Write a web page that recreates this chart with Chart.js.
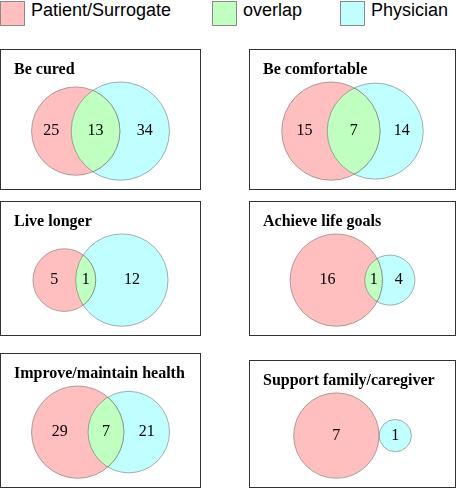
<!DOCTYPE html>
<html>
<head>
<meta charset="utf-8">
<script src="https://cdn.jsdelivr.net/npm/chart.js@4.4.1/dist/chart.umd.min.js"></script>
<style>
  html, body { margin: 0; padding: 0; background: #fff; width: 456px; height: 488px; overflow: hidden; }
  #legend { position: absolute; left: 0; top: 0; width: 456px; height: 30px;
            font: 18px "Liberation Sans", Arial, sans-serif; color: #000; }
  .sw { position: absolute; top: 1px; width: 25px; height: 25px; box-sizing: border-box; border: 1px solid #8a8a8a; }
  .lt { position: absolute; top: 0px; line-height: 20px; white-space: nowrap; }
  .panel { position: absolute; box-sizing: border-box; border: 1px solid #333; background: #fff; }
  .panel canvas { display: block; }
</style>
</head>
<body>
<div id="legend"></div>
<div id="panels"></div>
<script>
// ---------------- data ----------------
const panelTitles = ["Be cured", "Be comfortable", "Live longer", "Achieve life goals",
                     "Improve/maintain health", "Support family/caregiver"];
const patientOnly   = [25, 15, 5, 16, 29, 7];
const overlapCounts = [13, 7, 1, 1, 7, 0];
const physicianOnly = [34, 14, 12, 4, 21, 1];
const seriesLabels  = ["Patient/Surrogate", "overlap", "Physician"];

// ---------------- styles / layout ----------------
const seriesColors = ["#FFBFBF", "#BFFFBF", "#BFFFFF"];
const circleStroke = "rgba(80,80,80,0.45)";
const panelBoxes = [
  { left: 0,   top: 49,  width: 201, height: 141 },
  { left: 249, top: 49,  width: 207, height: 141 },
  { left: 0,   top: 201, width: 201, height: 135 },
  { left: 249, top: 201, width: 207, height: 135 },
  { left: 0,   top: 353, width: 201, height: 135 },
  { left: 249, top: 360, width: 207, height: 128 }
];
const legendLefts = [0, 212, 340];
const legendTextGap = 31;
const LENS_AREA_SCALE = 1.35;   // drawn overlap area relative to counts
const FIT = 0.985;              // fraction of plot height used by largest circle
const PAD = { left: 13, right: 13, bottom: 8 };
const TITLE_PAD = { top: 10, bottom: 2 };
const TITLE_SIZE = 16;

// ---------------- legend ----------------
const legend = document.getElementById('legend');
seriesLabels.forEach((lab, i) => {
  const sw = document.createElement('div');
  sw.className = 'sw';
  sw.style.left = legendLefts[i] + 'px';
  sw.style.background = seriesColors[i];
  legend.appendChild(sw);
  const t = document.createElement('div');
  t.className = 'lt';
  t.style.left = (legendLefts[i] + legendTextGap) + 'px';
  t.textContent = lab;
  legend.appendChild(t);
});

// ---------------- venn geometry ----------------
function lensArea(r1, r2, d) {
  if (d >= r1 + r2) return 0;
  if (d <= Math.abs(r1 - r2)) return Math.PI * Math.min(r1, r2) ** 2;
  const a1 = Math.acos((d * d + r1 * r1 - r2 * r2) / (2 * d * r1));
  const a2 = Math.acos((d * d + r2 * r2 - r1 * r1) / (2 * d * r2));
  const t = Math.sqrt((-d + r1 + r2) * (d + r1 - r2) * (d - r1 + r2) * (d + r1 + r2));
  return r1 * r1 * a1 + r2 * r2 * a2 - 0.5 * t;
}
function separation(r1, r2, target) {
  if (target <= 0) return r1 + r2;
  let lo = Math.abs(r1 - r2), hi = r1 + r2;
  for (let i = 0; i < 60; i++) {
    const mid = (lo + hi) / 2;
    if (lensArea(r1, r2, mid) > target) lo = mid; else hi = mid;
  }
  return (lo + hi) / 2;
}

const vennPlugin = {
  id: 'venn',
  afterDatasetsDraw(chart) {
    const ctx = chart.ctx;
    const a = chart.getDatasetMeta(0).data[0];
    const b = chart.getDatasetMeta(2).data[0];
    const ra = a.options.radius, rb = b.options.radius;
    const info = chart.options.plugins.venn;
    if (info.overlap > 0) {
      ctx.save();
      ctx.beginPath(); ctx.arc(a.x, a.y, ra, 0, Math.PI * 2); ctx.clip();
      ctx.beginPath(); ctx.arc(b.x, b.y, rb, 0, Math.PI * 2);
      ctx.fillStyle = seriesColors[1]; ctx.fill();
      ctx.strokeStyle = circleStroke; ctx.lineWidth = 1; ctx.stroke();
      ctx.restore();
      ctx.save();
      ctx.beginPath(); ctx.arc(b.x, b.y, rb, 0, Math.PI * 2); ctx.clip();
      ctx.beginPath(); ctx.arc(a.x, a.y, ra, 0, Math.PI * 2);
      ctx.strokeStyle = circleStroke; ctx.lineWidth = 1; ctx.stroke();
      ctx.restore();
    }
    const xs = chart.scales.x, ys = chart.scales.y;
    ctx.save();
    ctx.fillStyle = '#000';
    ctx.font = '16px "Liberation Serif", "Times New Roman", serif';
    ctx.textAlign = 'center';
    ctx.textBaseline = 'middle';
    const y = ys.getPixelForValue(0);
    info.labels.forEach(l => {
      ctx.fillText(String(l.text), xs.getPixelForValue(l.x), y);
    });
    ctx.restore();
  }
};

// ---------------- panels ----------------
const panelsDiv = document.getElementById('panels');
panelTitles.forEach((title, i) => {
  const box = panelBoxes[i];
  const div = document.createElement('div');
  div.className = 'panel';
  Object.assign(div.style, { left: box.left + 'px', top: box.top + 'px',
                             width: box.width + 'px', height: box.height + 'px' });
  const cv = document.createElement('canvas');
  const cw = box.width - 2, ch = box.height - 2;
  cv.width = cw; cv.height = ch;
  cv.style.width = cw + 'px'; cv.style.height = ch + 'px';
  div.appendChild(cv);
  panelsDiv.appendChild(div);

  const a = patientOnly[i], o = overlapCounts[i], b = physicianOnly[i];
  const rA = Math.sqrt(a + o), rB = Math.sqrt(b + o);
  const d = separation(rA, rB, LENS_AREA_SCALE * Math.PI * o);
  const mid = (-rA + d + rB) / 2;
  const xA = -mid, xB = d - mid;

  const plotW = cw - PAD.left - PAD.right;
  const plotH = ch - PAD.bottom - (TITLE_PAD.top + TITLE_PAD.bottom + TITLE_SIZE * 1.2);
  const maxR = Math.max(rA, rB);
  const k = FIT * plotH / (2 * maxR);      // pixels per unit
  const halfX = plotW / (2 * k), halfY = plotH / (2 * k);

  const labels = [];
  if (o > 0) {
    const leftA = xA - rA, rightA = xA + rA, leftB = xB - rB, rightB = xB + rB;
    labels.push({ text: a, x: (leftA + leftB) / 2 });
    labels.push({ text: o, x: (leftB + rightA) / 2 });
    labels.push({ text: b, x: (rightA + rightB) / 2 });
  } else {
    labels.push({ text: a, x: xA });
    labels.push({ text: b, x: xB });
  }

  // radius (in data units) converted to pixels through the chart's y scale
  const radiusFromUnits = (c) => {
    const s = c.chart.scales.y;
    if (!c.raw || !s) return 0;
    const px = Math.abs(s.getPixelForValue(c.raw.u) - s.getPixelForValue(0));
    return isFinite(px) ? px : 0;
  };

  new Chart(cv, {
    type: 'scatter',
    data: {
      datasets: [
        { label: seriesLabels[0], data: [{ x: xA, y: 0, u: rA }],
          pointBackgroundColor: seriesColors[0], pointBorderColor: circleStroke, pointBorderWidth: 1,
          pointRadius: radiusFromUnits, pointHoverRadius: radiusFromUnits, clip: false },
        { label: seriesLabels[1], data: [], pointBackgroundColor: seriesColors[1] },
        { label: seriesLabels[2], data: [{ x: xB, y: 0, u: rB }],
          pointBackgroundColor: seriesColors[2], pointBorderColor: circleStroke, pointBorderWidth: 1,
          pointRadius: radiusFromUnits, pointHoverRadius: radiusFromUnits, clip: false }
      ]
    },
    options: {
      responsive: false,
      animation: false,
      events: [],
      layout: { padding: { left: PAD.left, right: PAD.right, top: 0, bottom: PAD.bottom } },
      scales: {
        x: { display: false, min: -halfX, max: halfX },
        y: { display: false, min: -halfY, max: halfY }
      },
      plugins: {
        legend: { display: false },
        tooltip: { enabled: false },
        title: {
          display: true, text: title, align: 'start', color: '#000',
          font: { family: '"Liberation Serif", "Times New Roman", serif', size: TITLE_SIZE, weight: 'bold' },
          padding: { top: TITLE_PAD.top, bottom: TITLE_PAD.bottom }
        },
        venn: { overlap: o, labels: labels }
      }
    },
    plugins: [vennPlugin]
  });
});
</script>
</body>
</html>
